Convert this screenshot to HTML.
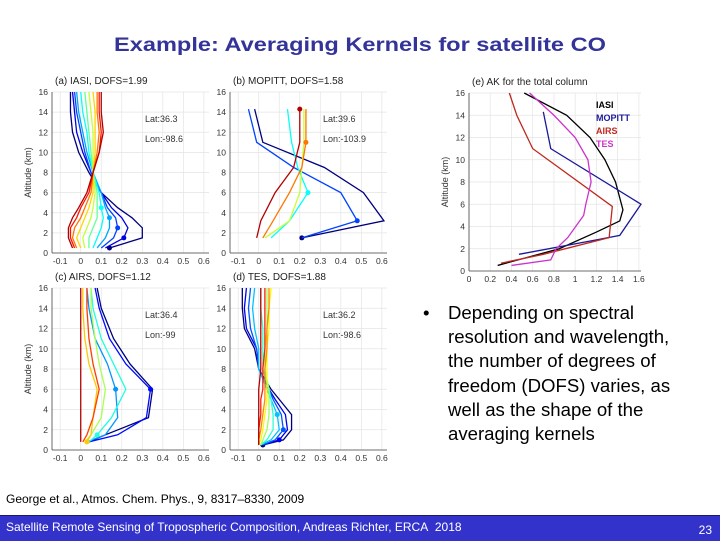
<!DOCTYPE html>
<html><head><meta charset="utf-8"><style>
body{margin:0;width:720px;height:540px;overflow:hidden;background:#fff;font-family:"Liberation Sans",Arial,sans-serif;position:relative}
.t{position:absolute;white-space:nowrap}
</style></head><body>
<div class="t" style="left:0;width:720px;text-align:center;top:35px;font-size:19px;font-weight:bold;color:#333399;transform:scaleX(1.24);transform-origin:360px 0">Example: Averaging Kernels for satellite CO</div>
<svg id="ch" width="720" height="480" style="position:absolute;left:0;top:0"></svg>
<div class="t" style="left:423px;top:301px;font-size:18.6px;line-height:24.2px;color:#000">
<span style="position:absolute;left:0">•</span>
<div style="margin-left:25px">Depending on spectral<br>resolution and wavelength,<br>the number of degrees of<br>freedom (DOFS) varies, as<br>well as the shape of the<br>averaging kernels</div></div>
<div class="t" style="left:6px;top:492px;font-size:12px;color:#000">George et al., Atmos. Chem. Phys., 9, 8317–8330, 2009</div>
<div style="position:absolute;left:0;top:515px;width:720px;height:25px;background:#3333cc;border-top:1px solid #1a1a66">
<div class="t" style="left:6px;top:4px;font-size:12px;color:#fff">Satellite Remote Sensing of Tropospheric Composition, Andreas Richter, ERCA&nbsp; 2018</div>
<div class="t" style="right:8px;top:7px;font-size:12px;color:#fff">23</div></div>
<script>
// ---- data ----
const iasiAlt=[0.5,1.5,2.5,3.5,4.5,6,8,10,12,14,16];
const iasiK=[
[0.14,0.30,0.30,0.25,0.18,0.10,0.04,-0.01,-0.04,-0.05,-0.05],
[0.12,0.21,0.23,0.20,0.15,0.10,0.05,0.01,-0.02,-0.03,-0.04],
[0.10,0.16,0.18,0.17,0.13,0.10,0.05,0.02,0.00,-0.02,-0.03],
[0.08,0.12,0.14,0.14,0.12,0.10,0.06,0.03,0.01,-0.01,-0.02],
[0.06,0.08,0.10,0.11,0.10,0.09,0.06,0.04,0.03,0.01,0.00],
[0.04,0.04,0.06,0.08,0.08,0.08,0.06,0.05,0.04,0.03,0.02],
[0.02,0.01,0.03,0.05,0.06,0.07,0.06,0.06,0.06,0.05,0.04],
[0.00,-0.02,0.00,0.02,0.04,0.06,0.06,0.07,0.07,0.07,0.06],
[-0.02,-0.04,-0.03,0.00,0.02,0.05,0.06,0.08,0.09,0.08,0.08],
[-0.03,-0.05,-0.05,-0.02,0.00,0.04,0.06,0.09,0.10,0.09,0.09],
[-0.04,-0.06,-0.06,-0.04,-0.01,0.03,0.06,0.09,0.11,0.10,0.10]];
const mopAlt=[1.5,3.2,6,8.5,11,14.3];
const mopK=[
[0.21,0.61,0.51,0.32,0.02,-0.02],
[0.21,0.48,0.40,0.17,-0.01,-0.05],
[0.06,0.15,0.24,0.19,0.16,0.14],
[0.03,0.15,0.20,0.21,0.22,0.22],
[0.02,0.07,0.15,0.21,0.23,0.23],
[-0.01,0.01,0.08,0.17,0.20,0.20]];
const airsAlt=[0.8,1.5,3.2,6,8.5,11,14,16];
const airsK=[
[0.04,0.12,0.33,0.35,0.24,0.16,0.10,0.08],
[0.04,0.18,0.32,0.34,0.22,0.14,0.09,0.07],
[0.03,0.12,0.18,0.17,0.13,0.07,0.04,0.03],
[0.04,0.08,0.15,0.22,0.16,0.10,0.06,0.05],
[0.02,0.05,0.10,0.12,0.09,0.07,0.05,0.05],
[0.03,0.05,0.06,0.08,0.04,0.02,0.01,0.01],
[0.01,0.03,0.06,0.09,0.06,0.04,0.03,0.03],
[0.00,0.00,0.00,0.00,0.00,0.00,0.00,0.00]];
const tesAlt=[0.5,1,2,3.5,5,6,8,10,12,14,16];
const tesK=[
[0.02,0.12,0.16,0.16,0.10,0.06,0.00,-0.02,-0.07,-0.08,-0.08],
[0.02,0.10,0.14,0.13,0.08,0.05,0.00,-0.01,-0.06,-0.07,-0.06],
[0.02,0.08,0.12,0.11,0.07,0.05,0.00,-0.01,-0.04,-0.05,-0.04],
[0.01,0.06,0.10,0.09,0.06,0.04,0.00,0.00,-0.02,-0.03,-0.02],
[0.01,0.04,0.07,0.07,0.06,0.05,0.02,0.02,0.02,0.01,0.01],
[0.01,0.02,0.04,0.05,0.05,0.05,0.03,0.03,0.04,0.04,0.04],
[0.00,0.01,0.02,0.03,0.04,0.04,0.04,0.04,0.05,0.05,0.06],
[0.00,0.00,0.01,0.02,0.03,0.03,0.03,0.04,0.04,0.05,0.05],
[0.00,0.00,0.00,0.01,0.01,0.02,0.02,0.03,0.03,0.03,0.03],
[0.00,0.00,0.00,0.00,0.00,0.00,0.01,0.01,0.01,0.01,0.01]];
const colIasiAlt=[0.5,2,3.5,4.5,5.5,8,10,12,14,16];
const colIasi=[0.27,0.85,1.2,1.42,1.45,1.38,1.28,1.14,0.92,0.52];
const colMopAlt=[1.5,2.8,3.2,6,11,14.3];
const colMop=[0.47,1.2,1.42,1.62,0.77,0.70];
const colAirsAlt=[0.7,1.5,3,5.8,11,14,16];
const colAirs=[0.3,0.7,1.32,1.35,0.6,0.45,0.38];
const colTesAlt=[0.5,1,2,3,5,6,8,10,12,14,16];
const colTes=[0.4,0.77,0.82,0.93,1.08,1.1,1.15,1.12,1.0,0.8,0.57];
const xTicksSmall=[-0.1,0,0.1,0.2,0.3,0.4,0.5,0.6];
const xTicksCol=[0,0.2,0.4,0.6,0.8,1,1.2,1.4,1.6];
const yTicks=[0,2,4,6,8,10,12,14,16];
// ---- drawing ----
const svg=document.getElementById('ch');const NS='http://www.w3.org/2000/svg';
function mk(tag,at,parent){const e=document.createElementNS(NS,tag);for(const k in at)e.setAttribute(k,at[k]);(parent||svg).appendChild(e);return e;}
function jet(t){const r=Math.min(1,Math.max(0,1.5-Math.abs(4*t-3))),g=Math.min(1,Math.max(0,1.5-Math.abs(4*t-2))),b=Math.min(1,Math.max(0,1.5-Math.abs(4*t-1)));return `rgb(${r*255|0},${g*255|0},${b*255|0})`;}
function panel(g){
 const sx=v=>g.x0+(v-g.xmin)/(g.xmax-g.xmin)*(g.x1-g.x0);
 const sy=v=>g.y0+(16-v)/16*(g.y1-g.y0);
 const grp=mk('g',{});
 
 
 g.xt.forEach(v=>{mk('line',{x1:sx(v),x2:sx(v),y1:g.y0,y2:g.y1,stroke:'#e4e4e4','stroke-width':0.7},grp);
  const t=mk('text',{x:sx(v),y:g.y1+11,'font-size':8.5,'text-anchor':'middle',fill:'#333'},grp);t.textContent=String(v);});
 yTicks.forEach(v=>{mk('line',{x1:g.x0,x2:g.x1,y1:sy(v),y2:sy(v),stroke:'#e4e4e4','stroke-width':0.7},grp);
  const t=mk('text',{x:g.x0-4,y:sy(v)+3,'font-size':8.5,'text-anchor':'end',fill:'#333'},grp);t.textContent=v;});
 mk('line',{x1:g.x0,x2:g.x0,y1:g.y0,y2:g.y1,stroke:'#444','stroke-width':0.8},grp);
 mk('line',{x1:g.x0,x2:g.x1,y1:g.y1,y2:g.y1,stroke:'#444','stroke-width':0.8},grp);
 g.series.forEach(s=>{const p=s.v.map((v,i)=>sx(v)+','+sy(s.a[i])).join(' ');
  const l=mk('polyline',{points:p,fill:'none',stroke:s.c,'stroke-width':s.w||1.3},grp);
  
  
  if(s.dot!=null)mk('circle',{cx:sx(s.v[s.dot]),cy:sy(s.a[s.dot]),r:2.5,fill:s.c},grp);});
 const tt=mk('text',{x:g.x0+3,y:g.y0-8,'font-size':10,fill:'#222'},grp);tt.textContent=g.title;
 if(g.lat){const a=mk('text',{x:g.x0+93,y:g.y0+30,'font-size':9,fill:'#333'},grp);a.textContent=g.lat;
  const b=mk('text',{x:g.x0+93,y:g.y0+50,'font-size':9,fill:'#333'},grp);b.textContent=g.lon;}
 if(g.ylab){const y=mk('text',{x:0,y:0,'font-size':9,'text-anchor':'middle',fill:'#333',transform:`translate(${g.x0-21},${(g.y0+g.y1)/2}) rotate(-90)`},grp);y.textContent='Altitude (km)';}
}
function mkSeries(arr,alt,dotIdx,name){return arr.map((v,i)=>({v:v,a:alt,c:jet(i/(arr.length-1)*0.95),n:name+'-kernel-'+(i+1),dot:dotIdx?dotIdx[i]:null}));}
const A=mkSeries(iasiK,iasiAlt,[0,1,2,3,4,null,null,null,null,null,null],'iasi');
const B=mkSeries(mopK,mopAlt,[0,1,2,null,4,5],'mopitt');
const Cs=mkSeries(airsK,airsAlt,[null,3,3,1,null,0,null,null],'airs');
const D=mkSeries(tesK,tesAlt,[0,1,2,3,null,null,null,null,null,null],'tes');
const xs=xTicksSmall;
panel({name:'panel-a-iasi',x0:52,x1:209,y0:92,y1:253,xmin:-0.14,xmax:0.625,xt:xs,series:A,title:'(a)     IASI, DOFS=1.99',lat:'Lat:36.3',lon:'Lon:-98.6',ylab:1});
panel({name:'panel-b-mopitt',x0:230,x1:387,y0:92,y1:253,xmin:-0.14,xmax:0.625,xt:xs,series:B,title:'(b)   MOPITT, DOFS=1.58',lat:'Lat:39.6',lon:'Lon:-103.9'});
panel({name:'panel-c-airs',x0:52,x1:209,y0:288,y1:450,xmin:-0.14,xmax:0.625,xt:xs,series:Cs,title:'(c)     AIRS, DOFS=1.12',lat:'Lat:36.4',lon:'Lon:-99',ylab:1});
panel({name:'panel-d-tes',x0:230,x1:387,y0:288,y1:450,xmin:-0.14,xmax:0.625,xt:xs,series:D,title:'(d)     TES, DOFS=1.88',lat:'Lat:36.2',lon:'Lon:-98.6'});
panel({name:'panel-e-total-column',x0:469,x1:641,y0:93,y1:271,xmin:0,xmax:1.62,xt:xTicksCol,title:'(e) AK for the total column',ylab:1,series:[
 {v:colIasi,a:colIasiAlt,c:'#000',n:'iasi-column-line'},
 {v:colMop,a:colMopAlt,c:'#1a1a99',n:'mopitt-column-line'},
 {v:colAirs,a:colAirsAlt,c:'#c0281e',n:'airs-column-line'},
 {v:colTes,a:colTesAlt,c:'#cc33cc',n:'tes-column-line'}]});
[['IASI','#000'],['MOPITT','#1a1a99'],['AIRS','#c0281e'],['TES','#cc33cc']].forEach((l,i)=>{
 const t=mk('text',{x:596,y:108+i*13,'font-size':9,'font-weight':'bold',fill:l[1]});
 
 
 t.textContent=l[0];});
</script>
</body></html>
